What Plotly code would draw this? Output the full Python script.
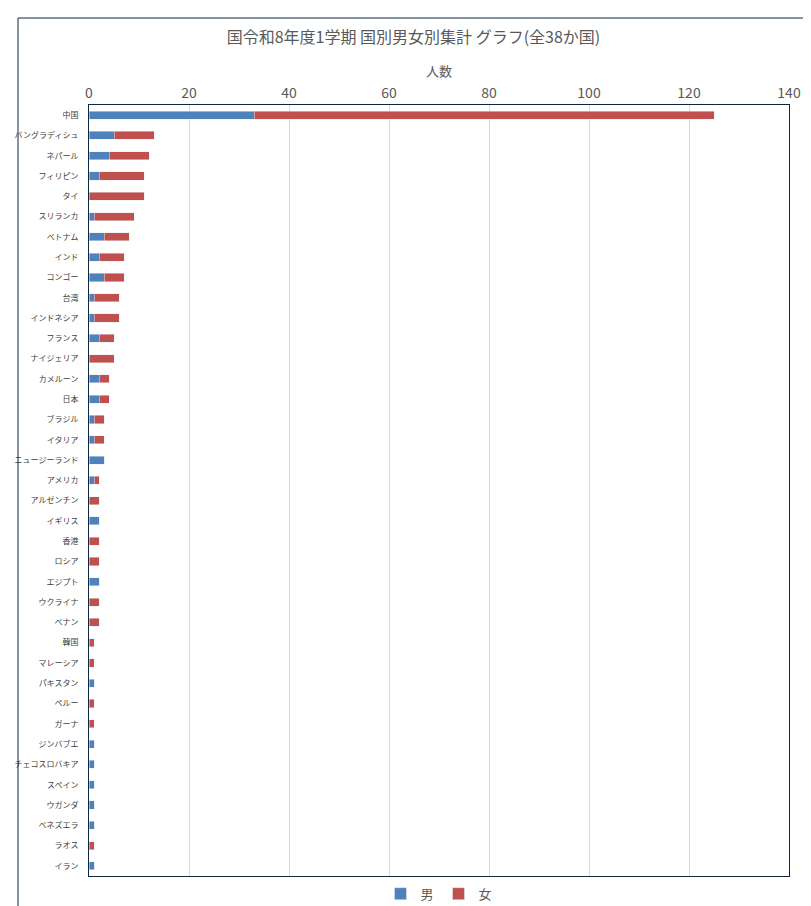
import plotly.graph_objects as go

countries = ["中国","バングラディシュ","ネパール","フィリピン","タイ","スリランカ","ベトナム","インド","コンゴー","台湾",
"インドネシア","フランス","ナイジェリア","カメルーン","日本","ブラジル","イタリア","ニュージーランド","アメリカ","アルゼンチン",
"イギリス","香港","ロシア","エジプト","ウクライナ","ベナン","韓国","マレーシア","パキスタン","ペルー",
"ガーナ","ジンバブエ","チェコスロバキア","スペイン","ウガンダ","ベネズエラ","ラオス","イラン"]
male = [33,5,4,2,0,1,3,2,3,1,1,2,0,2,2,1,1,3,1,0,2,0,0,2,0,0,0,0,1,0,0,1,1,1,1,1,0,1]
female = [92,8,8,9,11,8,5,5,4,5,5,3,5,2,2,2,2,0,1,2,0,2,2,0,2,2,1,1,0,1,1,0,0,0,0,0,1,0]
x_ticks = [0,20,40,60,80,100,120,140]

font = "Noto Sans CJK JP"
fig = go.Figure()
fig.add_trace(go.Bar(y=countries, x=male, name="男", orientation="h", marker_color="#4F81BD", width=0.4))
fig.add_trace(go.Bar(y=countries, x=female, name="女", orientation="h", marker_color="#C0504D", width=0.4))
fig.update_layout(
    barmode="stack", width=811, height=906, plot_bgcolor="white", paper_bgcolor="white",
    font=dict(family=font, color="#595959"),
    margin=dict(l=81, r=30, t=97, b=38, autoexpand=False),
    title=dict(text="国令和8年度1学期 国別男女別集計 グラフ(全38か国)", x=0.5, xanchor="center", y=0.968, yanchor="middle",
               font=dict(size=16, color="#595959")),
    xaxis=dict(side="top", range=[0,140], tickvals=x_ticks, showgrid=True, gridcolor="#D9D9D9",
               tickfont=dict(size=14), title=dict(text="人数", font=dict(size=13), standoff=2),
               showline=True, linecolor="#0E2841", mirror=True, zeroline=False, automargin=False),
    yaxis=dict(autorange="reversed", tickfont=dict(size=8, color="#404040"), showline=True, linecolor="#0E2841",
               mirror=True, ticks="", ticklabelstandoff=8, automargin=False),
    legend=dict(orientation="h", x=0.5, xanchor="center", y=-0.023, yanchor="middle", font=dict(size=13),
                traceorder="normal", bgcolor="rgba(0,0,0,0)", itemwidth=30),
    bargap=0.5,
    shapes=[dict(type="rect", xref="paper", yref="paper", x0=-0.1014, x1=1.0286, y0=-0.0415, y1=1.1128,
                 line=dict(color="#0E2841", width=1))],
)
fig.write_html("out.html")
